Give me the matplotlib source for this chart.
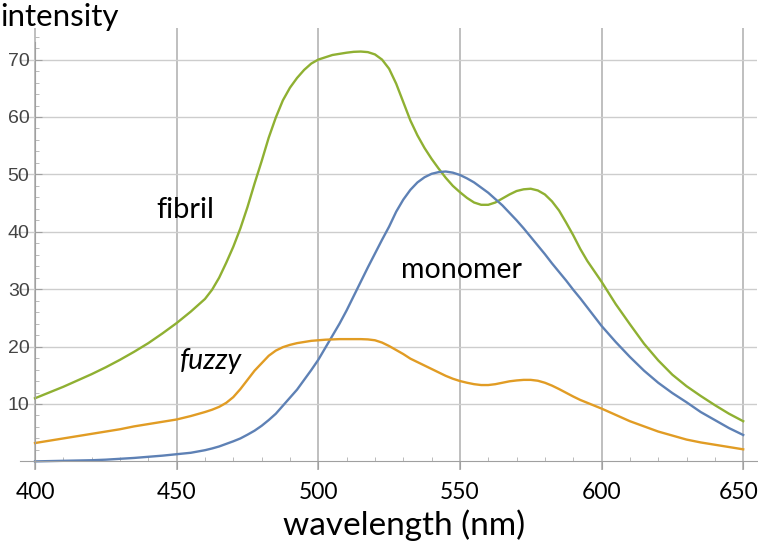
import matplotlib
matplotlib.use("Agg")
import matplotlib.pyplot as plt
import matplotlib.transforms as mtransforms
from matplotlib.ticker import MultipleLocator

# wavelength grid (nm): 5 nm steps at the ends, 2.5 nm steps through the peaks
wavelength = ([400 + 5 * i for i in range(12)]
              + [460 + 2.5 * i for i in range(57)]
              + [605 + 5 * i for i in range(10)])

# fibril (green)
fibril = [11.0, 12.0, 13.0, 14.1, 15.2, 16.4, 17.7, 19.1, 20.6, 22.3, 24.1, 26.1,
          28.3, 29.9, 32.0, 34.6,
          37.4, 40.6, 44.3, 48.4,
          52.3, 56.4, 59.9, 62.9,
          65.1, 66.8, 68.2, 69.3,
          70.0, 70.4, 70.8, 71.0,
          71.2, 71.35, 71.4, 71.3,
          70.9, 70.0, 68.4, 65.8,
          62.6, 59.4, 56.8, 54.6,
          52.7, 51.0, 49.4, 48.0,
          46.9, 45.9, 45.1, 44.7,
          44.7, 45.1, 45.8, 46.5,
          47.1, 47.4, 47.5, 47.2,
          46.5, 45.3, 43.7, 41.6,
          39.4, 37.0, 34.9, 33.1,
          31.3,
          27.4, 23.9, 20.5, 17.6, 15.1, 13.1, 11.4, 9.8, 8.3, 7.0]

# monomer (blue)
monomer = [0.0, 0.05, 0.1, 0.15, 0.2, 0.3, 0.45, 0.6, 0.8, 1.0, 1.25, 1.5,
           1.95, 2.25, 2.6, 3.05,
           3.5, 4.0, 4.65, 5.35,
           6.2, 7.2, 8.3, 9.7,
           11.1, 12.5, 14.2, 15.9,
           17.7, 19.8, 21.9, 24.0,
           26.3, 28.8, 31.3, 33.8,
           36.2, 38.6, 40.9, 43.5,
           45.6, 47.3, 48.6, 49.5,
           50.1, 50.4, 50.5, 50.3,
           49.9, 49.3, 48.6, 47.7,
           46.8, 45.7, 44.6, 43.3,
           42.0, 40.6, 39.1, 37.6,
           36.1, 34.5, 33.0, 31.5,
           29.9, 28.4, 26.8, 25.2,
           23.6,
           20.8, 18.2, 15.8, 13.7, 11.9, 10.3, 8.6, 7.2, 5.8, 4.6]

# fuzzy (orange)
fuzzy = [3.2, 3.6, 4.0, 4.4, 4.8, 5.2, 5.6, 6.1, 6.5, 6.9, 7.3, 7.9,
         8.6, 9.0, 9.5, 10.2,
         11.2, 12.6, 14.2, 15.8,
         17.1, 18.4, 19.3, 19.9,
         20.3, 20.6, 20.8, 21.0,
         21.1, 21.2, 21.25, 21.3,
         21.3, 21.3, 21.3, 21.25,
         21.1, 20.7, 20.1, 19.4,
         18.7, 17.9, 17.3, 16.7,
         16.1, 15.5, 14.9, 14.4,
         14.0, 13.7, 13.45, 13.3,
         13.3, 13.45, 13.7, 13.95,
         14.1, 14.2, 14.2, 14.05,
         13.7, 13.2, 12.6, 11.95,
         11.3, 10.7, 10.2, 9.7,
         9.2,
         8.1, 7.0, 6.1, 5.2, 4.5, 3.8, 3.3, 2.9, 2.5, 2.1]

x_ticks = [400, 450, 500, 550, 600, 650]
y_ticks = [10, 20, 30, 40, 50, 60, 70]

text_font = ["Lato", "DejaVu Sans"]

fig = plt.figure(figsize=(7.58, 5.46), dpi=100)
ax = fig.add_axes([0.0264, 0.1392, 0.972, 0.8095])

# grid lines first so curves sit on top
for xv in x_ticks:
    ax.axvline(xv, color="#b4b4b4", lw=1.2, zorder=0)
for yv in y_ticks:
    ax.axhline(yv, color="#cdcdcd", lw=1.0, zorder=0)

ax.plot(wavelength, fibril, color="#8FB032", lw=1.7)
ax.plot(wavelength, monomer, color="#5E81B5", lw=1.7)
ax.plot(wavelength, fuzzy, color="#E19C24", lw=1.7)

ax.set_xlim(394.7, 654.8)
ax.set_ylim(-1.5, 75.5)

# Mathematica style axes crossing at (400, 0)
for s in ["top", "right"]:
    ax.spines[s].set_visible(False)
ax.spines["bottom"].set_position(("data", 0))
ax.spines["left"].set_position(("data", 400))
ax.spines["left"].set_bounds(-1.2, 73)
ax.spines["bottom"].set_color("#a0a0a0")
ax.spines["left"].set_color("#a0a0a0")

ax.set_xticks(x_ticks)
ax.xaxis.set_minor_locator(MultipleLocator(10))
ax.set_yticks(y_ticks)
ax.yaxis.set_minor_locator(MultipleLocator(2))

ax.tick_params(axis="x", which="major", direction="out", length=6,
               color="#a0a0a0", pad=9, labelsize=16.5, labelcolor="black")
ax.tick_params(axis="x", which="minor", direction="in", length=3, color="#b0b0b0")
ax.tick_params(axis="y", which="major", direction="in", length=5,
               color="#a0a0a0", pad=4, labelsize=14, labelcolor="#444444")
ax.tick_params(axis="y", which="minor", direction="in", length=3, color="#b0b0b0")
for lab in ax.get_xticklabels():
    lab.set_family(text_font)
for lab in ax.get_yticklabels():
    lab.set_family(["Liberation Sans", "DejaVu Sans"])

# nudge the last x label left so it stays inside the image
last = ax.xaxis.get_major_ticks()[-1].label1
last.set_transform(last.get_transform()
                   + mtransforms.ScaledTranslation(-0.05, 0, fig.dpi_scale_trans))

# curve labels
ax.text(453, 43.8, "fibril", fontsize=21, family=text_font, ha="center", va="center")
ax.text(550.5, 33.3, "monomer", fontsize=20.5, family=text_font, ha="center", va="center")
ax.text(462, 17.5, "fuzzy", fontsize=20.5, family=text_font, style="italic",
        ha="center", va="center")

fig.text(0.0, 0.995, "intensity", fontsize=22.5, family=text_font, ha="left", va="top")
fig.text(0.533, 0.01, "wavelength (nm)", fontsize=24, family=text_font,
         ha="center", va="bottom")

fig.savefig("out.png", dpi=100)
